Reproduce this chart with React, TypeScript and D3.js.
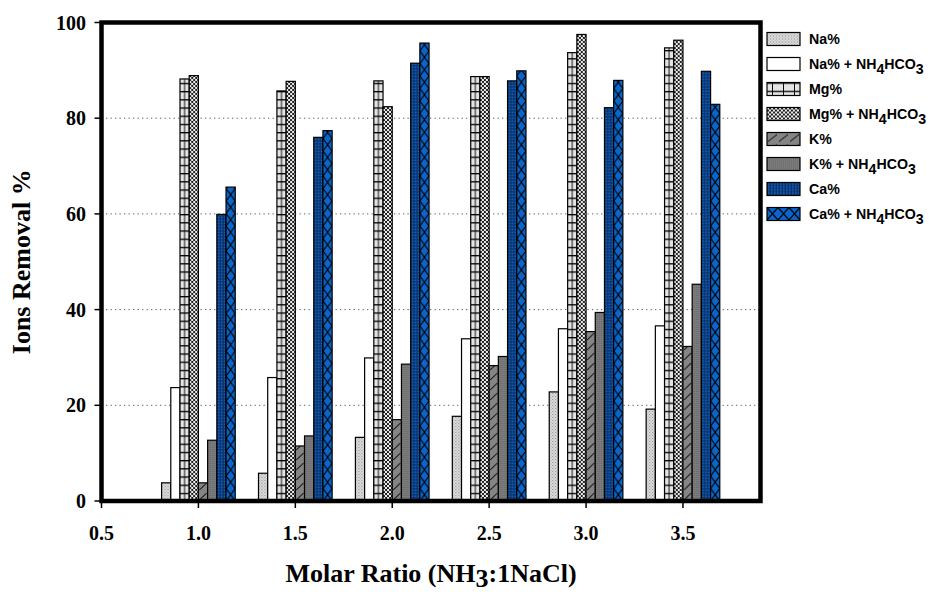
import React from "react";
import * as d3 from "d3";

// Molar ratio groups (NH3 : 1 NaCl)
const categories = [1.0, 1.5, 2.0, 2.5, 3.0, 3.5];

// Ion removal (%) per series
const naValues = [3.8, 5.8, 13.3, 17.7, 22.8, 19.2];
const naNh4Values = [23.7, 25.8, 29.9, 33.9, 36.0, 36.6];
const mgValues = [88.2, 85.7, 87.8, 88.7, 93.7, 94.7];
const mgNh4Values = [88.9, 87.7, 82.4, 88.7, 97.5, 96.3];
const kValues = [3.8, 11.5, 17.0, 28.3, 35.4, 32.3];
const kNh4Values = [12.7, 13.6, 28.6, 30.2, 39.4, 45.3];
const caValues = [59.9, 76.0, 91.5, 87.8, 82.2, 89.8];
const caNh4Values = [65.6, 77.4, 95.7, 89.9, 87.9, 82.9];

const ionNames = ["Na%", "Na%", "Mg%", "Mg%", "K%", "K%", "Ca%", "Ca%"];
const withBicarbonate = [false, true, false, true, false, true, false, true];
const seriesValues = [naValues, naNh4Values, mgValues, mgNh4Values, kValues, kNh4Values, caValues, caNh4Values];

const yTicks = [0, 20, 40, 60, 80, 100];
const xTicks = [0.5, 1.0, 1.5, 2.0, 2.5, 3.0, 3.5];
const gridValues = [20, 40, 60, 80];

const W = 934;
const H = 592;
const PL = 101.5, PR = 760.5, PT = 22.5, PB = 501;

const x = d3.scaleLinear().domain([0.5, 3.9]).range([PL, PR]);
const y = d3.scaleLinear().domain([0, 100]).range([PB, PT]);
const barUnits = 0.0475;
const barW = x(0.5 + barUnits) - x(0.5);

const serif = "'Liberation Serif', 'Times New Roman', serif";
const sans = "'Liberation Sans', Arial, sans-serif";

// Fill pattern for series s, anchored at (px, py) with width w
function patternDef(s: number, id: string, px: number, py: number, w: number) {
  switch (s) {
    case 0:
      return (
        <pattern key={id} id={id} patternUnits="userSpaceOnUse" x={px} y={py} width={3} height={3}>
          <rect width={3} height={3} fill="#e0e0e0" />
          <rect x={0} y={0} width={1} height={1} fill="#8a8a8a" />
          <rect x={1.5} y={1.5} width={1} height={1} fill="#8a8a8a" />
        </pattern>
      );
    case 1:
      return (
        <pattern key={id} id={id} patternUnits="userSpaceOnUse" x={px} y={py} width={4} height={4}>
          <rect width={4} height={4} fill="#ffffff" />
        </pattern>
      );
    case 2:
      return (
        <pattern key={id} id={id} patternUnits="userSpaceOnUse" x={px} y={py} width={w} height={8.2}>
          <rect width={w} height={8.2} fill="#e4e4e4" />
          <line x1={0} x2={w} y1={0.5} y2={0.5} stroke="#000" strokeWidth={1.6} />
          <line x1={w / 2} x2={w / 2} y1={0} y2={8.2} stroke="#000" strokeWidth={0.9} />
        </pattern>
      );
    case 3:
      return (
        <pattern key={id} id={id} patternUnits="userSpaceOnUse" x={px} y={py} width={4} height={4}>
          <rect width={4} height={4} fill="#111" />
          <circle cx={1} cy={1} r={1.2} fill="#f4f4f4" />
          <circle cx={3} cy={3} r={1.2} fill="#f4f4f4" />
        </pattern>
      );
    case 4:
      return (
        <pattern key={id} id={id} patternUnits="userSpaceOnUse" x={px} y={py} width={w} height={10}>
          <rect width={w} height={10} fill="#858585" />
          <line x1={1} y1={9} x2={w - 1} y2={2} stroke="#000" strokeWidth={1} />
        </pattern>
      );
    case 5:
      return (
        <pattern key={id} id={id} patternUnits="userSpaceOnUse" x={px} y={py} width={2} height={2}>
          <rect width={2} height={2} fill="#7c7c7c" />
          <rect x={0} y={0} width={1} height={1} fill="#666" />
        </pattern>
      );
    case 6:
      return (
        <pattern key={id} id={id} patternUnits="userSpaceOnUse" x={px} y={py} width={3} height={3}>
          <rect width={3} height={3} fill="#08326a" />
          <rect x={1} y={0.5} width={1.6} height={1.8} fill="#1662c0" />
        </pattern>
      );
    default:
      return (
        <pattern key={id} id={id} patternUnits="userSpaceOnUse" x={px} y={py} width={w} height={12.5}>
          <rect width={w} height={12.5} fill="#0b66cc" />
          <path d={`M0,0 L${w},12.5 M${w},0 L0,12.5`} stroke="#000" strokeWidth={1.2} fill="none" />
        </pattern>
      );
  }
}

function LegendLabel({ ion, nh4, lx, ly }: { ion: string; nh4: boolean; lx: number; ly: number }) {
  return (
    <text x={lx} y={ly} fontFamily={sans} fontWeight="bold" fontSize={14.2} fill="#000">
      {ion}
      {nh4 && (
        <>
          <tspan> + NH</tspan>
          <tspan dy={4.5}>4</tspan>
          <tspan dy={-4.5}>HCO</tspan>
          <tspan dy={4.5}>3</tspan>
        </>
      )}
    </text>
  );
}

export default function App() {
  const defs: React.ReactNode[] = [];
  const bars: React.ReactNode[] = [];

  seriesValues.forEach((vals, s) => {
    vals.forEach((v, i) => {
      const bx = x(categories[i]) + (s - 4) * barW;
      const by = y(v);
      const id = `p-${s}-${i}`;
      defs.push(patternDef(s, id, bx, PB, barW));
      bars.push(
        <rect key={id} x={bx} y={by} width={barW} height={y(0) - by} fill={`url(#${id})`} stroke="#000" strokeWidth={1.2} />
      );
    });
  });

  const legendBoxX = 767;
  const legendBoxW = 33;
  const legendBoxH = 13;
  const legend = ionNames.map((ion, s) => {
    const cy = 39 + s * 25;
    const id = `lg-${s}`;
    defs.push(patternDef(s, id, legendBoxX, cy - legendBoxH / 2, legendBoxW / 3));
    return (
      <g key={id}>
        <rect x={legendBoxX} y={cy - legendBoxH / 2} width={legendBoxW} height={legendBoxH} fill={`url(#${id})`} stroke="#000" strokeWidth={1.2} />
        <LegendLabel ion={ion} nh4={withBicarbonate[s]} lx={809} ly={cy + 5} />
      </g>
    );
  });

  return (
    <svg width={W} height={H} style={{ position: "absolute", left: 0, top: 0, background: "#fff" }}>
      <defs>{defs}</defs>

      {gridValues.map((g) => (
        <line key={`g${g}`} x1={PL} x2={PR} y1={y(g)} y2={y(g)} stroke="#5a5a7a" strokeWidth={1} strokeDasharray="1.3 3.2" />
      ))}

      {bars}

      <rect x={PL} y={PT} width={PR - PL} height={PB - PT} fill="none" stroke="#000" strokeWidth={4.5} />

      {yTicks.map((t) => (
        <g key={`yt${t}`}>
          <line x1={PL - 7} x2={PL} y1={y(t)} y2={y(t)} stroke="#000" strokeWidth={1.5} />
          <text x={86} y={y(t) + 7} textAnchor="end" fontFamily={serif} fontWeight="bold" fontSize={20}>
            {t}
          </text>
        </g>
      ))}

      {xTicks.map((t) => (
        <g key={`xt${t}`}>
          <line x1={x(t)} x2={x(t)} y1={PB} y2={PB + 7} stroke="#000" strokeWidth={1.5} />
          <text x={x(t)} y={540} textAnchor="middle" fontFamily={serif} fontWeight="bold" fontSize={20}>
            {t.toFixed(1)}
          </text>
        </g>
      ))}

      <text
        transform={`translate(30, ${(PT + PB) / 2}) rotate(-90)`}
        textAnchor="middle"
        fontFamily={serif}
        fontWeight="bold"
        fontSize={26}
      >
        Ions Removal %
      </text>

      <text x={431} y={582} textAnchor="middle" fontFamily={serif} fontWeight="bold" fontSize={26}>
        Molar Ratio (NH<tspan dy={5}>3</tspan>
        <tspan dy={-5}>:1NaCl)</tspan>
      </text>

      {legend}
    </svg>
  );
}
